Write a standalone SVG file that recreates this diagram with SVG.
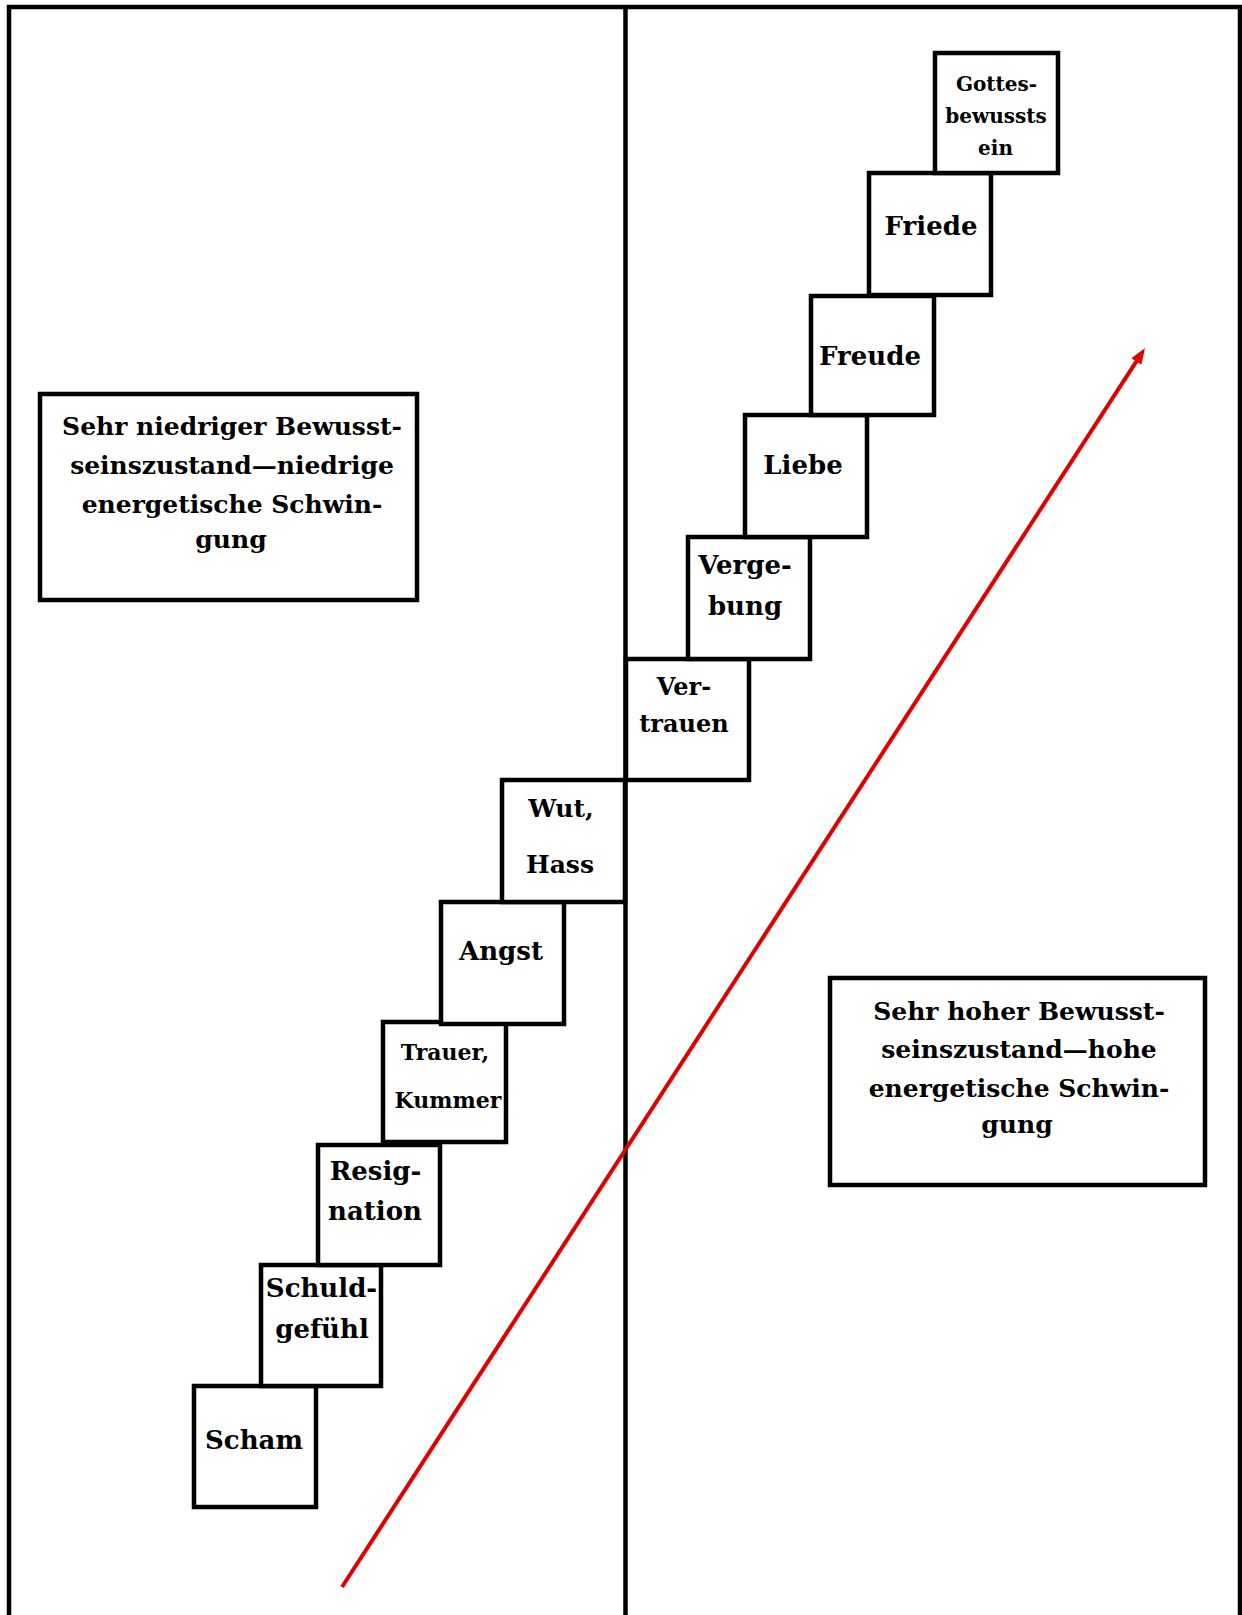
<svg xmlns="http://www.w3.org/2000/svg" width="1242" height="1615" viewBox="0 0 1242 1615">
<style>
.box{fill:#fff;stroke:#000;stroke-width:4.5}
.frame{fill:none;stroke:#000;stroke-width:4.5}
text{font-family:"DejaVu Serif","Liberation Serif",serif;font-weight:bold;fill:#000;text-anchor:middle}
.t26{font-size:26px}
.t25{font-size:25px}
.t24{font-size:24px}
.t22{font-size:22px}
.t20{font-size:20px}
.big{font-size:25px}
</style>
<defs>
<marker id="ah" markerUnits="userSpaceOnUse" markerWidth="16" markerHeight="12" refX="4" refY="6" orient="auto">
<path d="M0,0 L16,6 L0,12 z" fill="#e00000"/>
</marker>
</defs>
<rect width="1242" height="1615" fill="#fff"/>
<g id="frame">
<path class="frame" d="M9,1615 V7 H1240 V1615"/>
<line x1="625.5" y1="7" x2="625.5" y2="1615" stroke="#000" stroke-width="4.5"/>
</g>
<g id="low-box">
<rect class="box" x="40" y="394" width="377" height="206"/>
<text class="big" x="232" y="435">Sehr niedriger Bewusst-</text>
<text class="big" x="232" y="474">seinszustand—niedrige</text>
<text class="big" x="232" y="513">energetische Schwin-</text>
<text class="big" x="231" y="548">gung</text>
</g>
<g id="high-box">
<rect class="box" x="830" y="978" width="375" height="207"/>
<text class="big" x="1019" y="1020">Sehr hoher Bewusst-</text>
<text class="big" x="1019" y="1058">seinszustand—hohe</text>
<text class="big" x="1019" y="1097">energetische Schwin-</text>
<text class="big" x="1017" y="1133">gung</text>
</g>
<g id="scham">
<rect class="box" x="194" y="1386" width="122" height="121"/>
<text class="t26" x="254" y="1449">Scham</text>
</g>
<g id="schuldgefuehl">
<rect class="box" x="261" y="1265" width="120" height="121"/>
<text class="t26" x="321.5" y="1297">Schuld-</text>
<text class="t26" x="322" y="1338">gefühl</text>
</g>
<g id="resignation">
<rect class="box" x="318" y="1145" width="122" height="120"/>
<text class="t26" x="375.5" y="1180">Resig-</text>
<text class="t26" x="375" y="1220">nation</text>
</g>
<g id="trauer">
<rect class="box" x="383" y="1022" width="123" height="120"/>
<text class="t22" x="445" y="1060">Trauer,</text>
<text class="t22" x="448" y="1108">Kummer</text>
</g>
<g id="angst">
<rect class="box" x="441" y="902" width="123" height="122"/>
<text class="t26" x="501" y="960">Angst</text>
</g>
<g id="wut">
<rect class="box" x="502" y="780" width="123" height="122"/>
<text class="t25" x="561" y="817">Wut,</text>
<text class="t25" x="560" y="873">Hass</text>
</g>
<g id="vertrauen">
<rect class="box" x="626" y="659" width="123" height="121"/>
<text class="t24" x="684" y="695">Ver-</text>
<text class="t24" x="684" y="732">trauen</text>
</g>
<g id="vergebung">
<rect class="box" x="688" y="537" width="122" height="122"/>
<text class="t26" x="745" y="574">Verge-</text>
<text class="t26" x="745" y="615">bung</text>
</g>
<g id="liebe">
<rect class="box" x="745" y="415" width="122" height="122"/>
<text class="t26" x="803" y="474">Liebe</text>
</g>
<g id="freude">
<rect class="box" x="811" y="296" width="123" height="119"/>
<text class="t26" x="870" y="365">Freude</text>
</g>
<g id="friede">
<rect class="box" x="869" y="173" width="122" height="122"/>
<text class="t26" x="931" y="235">Friede</text>
</g>
<g id="gottesbewusstsein">
<rect class="box" x="935" y="53" width="123" height="120"/>
<text class="t20" x="996.5" y="91">Gottes-</text>
<text class="t20" x="996" y="123">bewussts</text>
<text class="t20" x="995.5" y="155">ein</text>
</g>
<g id="connectors">
<line x1="342" y1="1587" x2="1138.5" y2="358.1" stroke="#e00000" stroke-width="4" marker-end="url(#ah)"/>
</g>
</svg>
